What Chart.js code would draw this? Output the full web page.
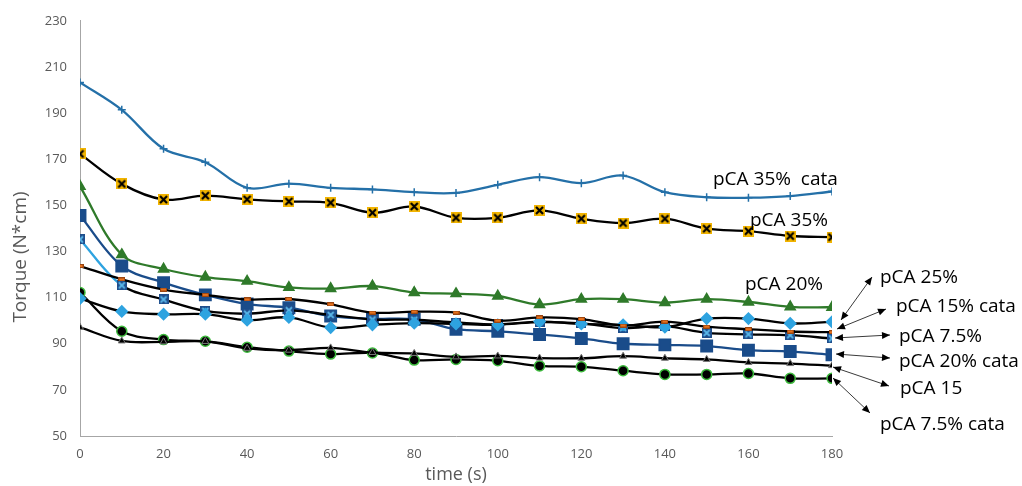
<!DOCTYPE html>
<html>
<head>
<meta charset="utf-8">
<title>Torque vs time</title>
<script src="https://cdn.jsdelivr.net/npm/chart.js@4.4.1/dist/chart.umd.min.js"></script>
<style>
  body { margin: 0; background: #fff; }
  #wrap { width: 1022px; height: 486px; }
</style>
</head>
<body>
<div id="wrap"><canvas id="chart-1" width="1022" height="486"></canvas></div>
<script>
// time axis (s)
var timeS = [0, 10, 20, 30, 40, 50, 60, 70, 80, 90, 100, 110, 120, 130, 140, 150, 160, 170, 180];

// torque readings (N*cm)
var pca35cata = [203.3, 191.4, 174.5, 168.7, 157.6, 159.4, 157.6, 156.9, 155.7, 155.4, 158.9, 162.2, 159.6, 162.9, 155.7, 153.5, 153.3, 154.0, 156.0];
var pca35 = [172.3, 159.3, 152.5, 154.2, 152.6, 151.7, 151.1, 146.8, 149.5, 144.6, 144.6, 147.8, 144.2, 142.3, 144.2, 139.9, 138.8, 136.7, 136.2];
var pca20 = [158.2, 128.6, 122.4, 118.9, 117.1, 114.4, 113.9, 115.0, 112.2, 111.7, 110.7, 107.0, 109.3, 109.3, 107.8, 109.3, 108.1, 106.0, 105.8];
var pca25 = [123.7, 117.9, 113.5, 111.2, 109.2, 109.4, 107.1, 103.5, 103.9, 103.5, 100.0, 101.4, 100.7, 97.9, 99.6, 97.4, 96.3, 95.3, 95.0];
var pca15cata = [109.6, 104.0, 102.8, 102.8, 100.2, 101.4, 97.0, 98.2, 98.9, 98.6, 98.2, 99.6, 98.6, 98.2, 97.2, 100.9, 100.9, 98.8, 99.5];
var pca75 = [135.2, 115.3, 109.2, 104.2, 103.0, 104.5, 102.5, 100.5, 100.4, 99.2, 98.4, 99.4, 98.8, 96.8, 97.6, 94.7, 94.1, 93.7, 92.3];
var pca20cata = [145.6, 123.7, 116.5, 111.2, 107.2, 105.6, 102.0, 100.8, 100.6, 96.3, 95.4, 94.0, 92.3, 90.0, 89.5, 89.0, 87.2, 86.6, 85.2];
var pca15 = [97.1, 91.2, 90.8, 91.0, 88.0, 87.2, 88.2, 86.2, 85.8, 84.3, 84.7, 83.8, 83.7, 84.6, 83.7, 83.2, 81.9, 81.4, 80.5];
var pca75cata = [112.2, 95.4, 91.8, 91.1, 88.5, 86.8, 85.5, 86.0, 82.9, 83.2, 82.6, 80.4, 80.0, 78.3, 76.7, 76.7, 77.1, 75.0, 75.0];

// y axis ticks
var torqueMin = 50, torqueMax = 230, torqueStep = 20;

function toPoints(values) {
  return values.map(function (v, i) {
    return { x: timeS[i], y: v };
  });
}

// small canvases used as point styles for the odd markers
function makeMarker(w, h, draw) {
  var c = document.createElement("canvas");
  c.width = w;
  c.height = h;
  draw(c.getContext("2d"), w, h);
  return c;
}

var goldX = makeMarker(11, 11, function (g, w, h) {
  g.fillStyle = "#F2B400";
  g.fillRect(0, 0, w, h);
  g.strokeStyle = "#000";
  g.lineWidth = 2.2;
  g.beginPath();
  g.moveTo(2, 2); g.lineTo(w - 2, h - 2);
  g.moveTo(w - 2, 2); g.lineTo(2, h - 2);
  g.stroke();
});

var blueX = makeMarker(10, 10, function (g, w, h) {
  g.fillStyle = "#1F4E8C";
  g.fillRect(0, 0, w, h);
  g.strokeStyle = "#5BB8EA";
  g.lineWidth = 1.8;
  g.beginPath();
  g.moveTo(2, 2); g.lineTo(w - 2, h - 2);
  g.moveTo(w - 2, 2); g.lineTo(2, h - 2);
  g.stroke();
});

var orangeDash = makeMarker(7, 4, function (g, w, h) {
  g.fillStyle = "#E8731E";
  g.fillRect(0.5, 0.5, w - 1, h - 1);
  g.strokeStyle = "#9A4510";
  g.lineWidth = 1;
  g.strokeRect(0.5, 0.5, w - 1, h - 1);
});

// text next to the curves and the callouts with double arrows
var inlineLabels = [
  { text: "pCA 35%  cata", x: 713, y: 185 },
  { text: "pCA 35%", x: 750, y: 226 },
  { text: "pCA 20%", x: 745, y: 290 }
];

var callouts = [
  { text: "pCA 25%", x: 880, y: 283, from: [841, 320], to: [872, 277] },
  { text: "pCA 15% cata", x: 896, y: 312, from: [837, 329], to: [886, 309] },
  { text: "pCA 7.5%", x: 899, y: 342, from: [835, 338], to: [890, 335] },
  { text: "pCA 20% cata", x: 899, y: 367, from: [836, 354], to: [890, 358] },
  { text: "pCA 15", x: 900, y: 394, from: [833, 367], to: [889, 386] },
  { text: "pCA 7.5% cata", x: 880, y: 430, from: [833, 378], to: [870, 413] }
];

function arrowHead(g, x, y, fromX, fromY) {
  var ang = Math.atan2(y - fromY, x - fromX);
  var len = 8, half = 3.5;
  g.beginPath();
  g.moveTo(x, y);
  g.lineTo(x - len * Math.cos(ang) + half * Math.sin(ang), y - len * Math.sin(ang) - half * Math.cos(ang));
  g.lineTo(x - len * Math.cos(ang) - half * Math.sin(ang), y - len * Math.sin(ang) + half * Math.cos(ang));
  g.closePath();
  g.fill();
}

var annotationPlugin = {
  id: "annotations",
  afterDraw: function (chart) {
    var g = chart.ctx;
    g.save();

    // rotated y title
    g.translate(21, 257);
    g.rotate(-Math.PI / 2);
    g.fillStyle = "#595959";
    g.font = "19px 'Open Sans'";
    g.textAlign = "center";
    g.textBaseline = "middle";
    g.fillText("Torque (N*cm)", 0, 0);
    g.setTransform(1, 0, 0, 1, 0, 0);

    g.font = "19px 'Open Sans'";
    g.textAlign = "left";
    g.textBaseline = "alphabetic";
    g.fillStyle = "#000";
    inlineLabels.forEach(function (l) {
      g.fillText(l.text, l.x, l.y);
    });

    callouts.forEach(function (c) {
      g.fillStyle = "#000";
      g.fillText(c.text, c.x, c.y);
      g.strokeStyle = "#3a3a3a";
      g.lineWidth = 1;
      g.beginPath();
      g.moveTo(c.from[0], c.from[1]);
      g.lineTo(c.to[0], c.to[1]);
      g.stroke();
      arrowHead(g, c.to[0], c.to[1], c.from[0], c.from[1]);
      arrowHead(g, c.from[0], c.from[1], c.to[0], c.to[1]);
    });
    g.restore();
  }
};

var lineWidth = 2.3;
var smooth = 0.35;

const ctx1 = document.getElementById("chart-1").getContext("2d");
const myChart = new Chart(ctx1, {
  type: "line",
  data: {
    datasets: [
      {
        label: "pCA 35% cata",
        data: toPoints(pca35cata),
        borderColor: "#2470A8",
        pointStyle: "cross",
        pointRadius: 4,
        pointBorderColor: "#2470A8",
        pointBorderWidth: 1.5
      },
      {
        label: "pCA 35%",
        data: toPoints(pca35),
        borderColor: "#000",
        pointStyle: goldX
      },
      {
        label: "pCA 20%",
        data: toPoints(pca20),
        borderColor: "#2F7A2A",
        pointStyle: "triangle",
        pointRadius: 5,
        pointBackgroundColor: "#2F7A2A",
        pointBorderColor: "#2F7A2A"
      },
      {
        label: "pCA 25%",
        data: toPoints(pca25),
        borderColor: "#000",
        pointStyle: orangeDash
      },
      {
        label: "pCA 15% cata",
        data: toPoints(pca15cata),
        borderColor: "#000",
        pointStyle: "rectRot",
        pointRadius: 5,
        pointBackgroundColor: "#2EA3E0",
        pointBorderColor: "#2EA3E0"
      },
      {
        label: "pCA 7.5%",
        data: toPoints(pca75),
        borderColor: "#000",
        segment: {
          borderColor: function (c) {
            return c.p0DataIndex === 0 ? "#2EA3E0" : "#000";
          }
        },
        pointStyle: blueX
      },
      {
        label: "pCA 20% cata",
        data: toPoints(pca20cata),
        borderColor: "#1A4C8A",
        pointStyle: "rect",
        pointRadius: 7.5,
        pointBackgroundColor: "#1A4C8A",
        pointBorderColor: "#1A4C8A"
      },
      {
        label: "pCA 15",
        data: toPoints(pca15),
        borderColor: "#000",
        pointStyle: "triangle",
        pointRadius: 4,
        pointBackgroundColor: "#000",
        pointBorderColor: "#777",
        pointBorderWidth: 1
      },
      {
        label: "pCA 7.5% cata",
        data: toPoints(pca75cata),
        borderColor: "#000",
        pointStyle: "circle",
        pointRadius: 5,
        pointBackgroundColor: "#000",
        pointBorderColor: "#3DBA3D",
        pointBorderWidth: 1.5
      }
    ]
  },
  options: {
    responsive: false,
    maintainAspectRatio: false,
    devicePixelRatio: 1,
    animation: false,
    datasets: {
      line: {
        borderWidth: lineWidth,
        tension: smooth,
        fill: false
      }
    },
    layout: {
      padding: { top: 19, right: 190, left: 0, bottom: 0 }
    },
    plugins: {
      legend: { display: false },
      tooltip: { enabled: false }
    },
    scales: {
      x: {
        type: "linear",
        min: 0,
        max: 180,
        afterFit: function (s) { s.height = 50; },
        ticks: {
          stepSize: 20,
          padding: 10,
          color: "#595959",
          font: { family: "'Open Sans'", size: 13 }
        },
        grid: { display: false, drawTicks: false },
        border: { color: "#A6A6A6", width: 1 },
        title: {
          display: true,
          text: "time (s)",
          color: "#595959",
          font: { family: "'Open Sans'", size: 18 },
          padding: { top: 0, bottom: 0 }
        }
      },
      y: {
        min: torqueMin,
        max: torqueMax,
        afterFit: function (s) { s.width = 80; },
        ticks: {
          stepSize: torqueStep,
          padding: 13,
          color: "#595959",
          font: { family: "'Open Sans'", size: 13 }
        },
        grid: { display: false, drawTicks: false },
        border: { color: "#A6A6A6", width: 1 }
      }
    }
  },
  plugins: [annotationPlugin]
});
</script>
</body>
</html>
